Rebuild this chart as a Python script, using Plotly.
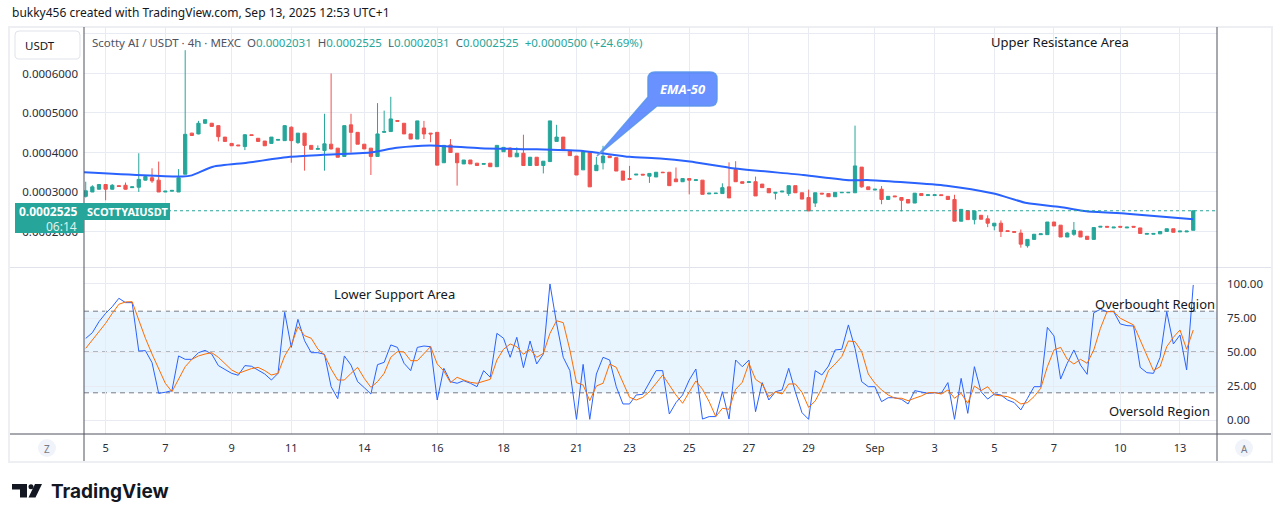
import plotly.graph_objects as go

W, H = 1281, 522

# ---------------- data (prices in units of 0.0001 USDT) ----------------
PRICE_UNIT = 1e-4

opens = [2.89, 3.00, 3.07, 3.19, 3.07, 3.16, 3.17, 3.11, 3.12, 3.30,
         3.36, 3.30, 3.00, 3.02, 3.00, 3.45, 4.49, 4.47, 4.74, 4.74,
         4.68, 4.39, 4.23, 4.19, 4.15, 4.45, 4.36, 4.29, 4.23, 4.31,
         4.30, 4.64, 4.25, 4.49, 4.18, 4.08, 4.05, 4.21, 4.11, 3.90,
         4.70, 4.51, 4.21, 4.11, 3.90, 4.51, 4.53, 4.81, 4.74, 4.47,
         4.34, 4.62, 4.49, 4.51, 3.74, 4.19, 3.98, 3.71, 3.81, 3.73,
         3.70, 3.73, 3.64, 4.02, 4.11, 3.89, 3.98, 3.67, 3.88, 3.67,
         3.77, 4.28, 4.39, 4.05, 3.91, 3.56, 4.00, 3.54, 3.74, 3.91,
         3.87, 3.53, 3.34, 3.43, 3.45, 3.40, 3.38, 3.50, 3.50, 3.33,
         3.26, 3.34, 3.29, 3.30, 2.95, 2.96, 2.96, 3.13, 3.57, 3.26,
         3.24, 3.26, 3.20, 3.09, 2.97, 3.00, 2.96, 3.16, 2.98, 2.86,
         2.72, 2.97, 2.96, 2.88, 2.98, 2.98, 2.98, 3.63, 3.13, 3.05,
         3.07, 2.81, 2.90, 2.86, 2.81, 2.72, 2.96, 2.91, 2.91, 2.93,
         2.89, 2.81, 2.26, 2.53, 2.30, 2.41, 2.32, 2.14, 2.21, 2.02,
         2.00, 1.96, 1.64, 1.80, 1.92, 1.92, 2.24, 2.16, 1.86, 1.93,
         2.01, 1.88, 1.80, 2.11, 2.13, 2.09, 2.13, 2.09, 2.13, 2.09,
         1.93, 1.93, 1.94, 2.00, 2.07, 1.99, 1.99, 2.031]
highs = [3.26, 3.17, 3.20, 3.20, 3.20, 3.16, 3.24, 3.13, 3.98, 3.40,
         3.60, 3.77, 3.02, 3.04, 3.58, 6.59, 4.50, 4.80, 4.84, 4.75,
         4.69, 4.39, 4.23, 4.19, 4.46, 4.45, 4.36, 4.29, 4.39, 4.33,
         4.69, 4.66, 4.49, 4.49, 4.18, 4.18, 4.98, 6.00, 4.11, 4.68,
         4.98, 4.51, 4.21, 4.11, 5.25, 5.06, 5.41, 4.81, 4.74, 4.47,
         4.80, 4.80, 4.49, 4.51, 4.18, 4.34, 3.98, 3.81, 3.81, 3.73,
         3.72, 3.73, 4.18, 4.13, 4.13, 4.13, 4.45, 3.88, 3.88, 3.78,
         4.80, 4.70, 4.39, 4.05, 3.91, 4.02, 4.00, 3.89, 4.17, 3.91,
         3.87, 3.53, 3.66, 3.45, 3.45, 3.47, 3.50, 3.51, 3.50, 3.62,
         3.34, 3.34, 3.31, 3.30, 2.97, 2.97, 3.22, 3.75, 3.78, 3.26,
         3.26, 3.39, 3.20, 3.09, 2.99, 3.02, 3.16, 3.16, 2.98, 3.06,
         2.98, 2.97, 2.96, 2.99, 2.99, 2.99, 4.68, 3.63, 3.13, 3.07,
         3.15, 2.89, 2.90, 2.86, 2.81, 2.97, 2.96, 2.93, 2.93, 2.93,
         2.89, 2.93, 2.56, 2.53, 2.52, 2.41, 2.41, 2.21, 2.28, 2.02,
         2.00, 2.05, 1.80, 1.93, 1.94, 2.24, 2.24, 2.16, 1.98, 2.24,
         2.01, 1.88, 2.10, 2.13, 2.13, 2.11, 2.13, 2.11, 2.13, 2.09,
         1.95, 1.95, 2.00, 2.07, 2.07, 2.01, 2.01, 2.525]
lows = [2.86, 3.00, 3.06, 2.79, 3.06, 3.14, 3.06, 3.11, 3.00, 3.29,
        3.23, 3.00, 3.00, 3.02, 3.00, 3.45, 4.42, 4.46, 4.72, 4.66,
        4.28, 4.28, 4.17, 4.17, 4.06, 4.43, 4.28, 4.17, 4.23, 4.31,
        4.30, 3.74, 4.22, 3.54, 4.08, 4.08, 3.54, 4.08, 3.88, 3.90,
        4.00, 4.21, 4.09, 3.43, 3.90, 4.51, 4.53, 4.79, 4.47, 4.34,
        4.34, 4.34, 4.26, 3.68, 3.74, 4.00, 3.16, 3.71, 3.71, 3.67,
        3.70, 3.64, 3.64, 4.02, 3.89, 3.89, 3.67, 3.67, 3.67, 3.47,
        3.77, 4.28, 4.05, 3.92, 3.43, 3.56, 3.13, 3.54, 3.57, 3.87,
        3.53, 3.30, 3.32, 3.43, 3.43, 3.23, 3.38, 3.48, 3.16, 3.26,
        3.26, 2.94, 3.29, 2.94, 2.95, 2.96, 2.96, 2.85, 3.26, 3.22,
        3.24, 2.90, 3.11, 2.98, 2.81, 3.00, 2.90, 2.98, 2.82, 2.52,
        2.62, 2.95, 2.88, 2.88, 2.98, 2.98, 2.98, 3.11, 3.06, 3.05,
        2.69, 2.81, 2.88, 2.51, 2.72, 2.72, 2.91, 2.91, 2.91, 2.91,
        2.81, 2.26, 2.26, 2.30, 2.18, 2.31, 2.11, 2.03, 1.86, 2.00,
        1.98, 1.59, 1.59, 1.80, 1.92, 1.92, 2.14, 1.86, 1.86, 1.89,
        1.86, 1.80, 1.80, 2.11, 2.11, 2.09, 2.11, 2.09, 2.11, 1.95,
        1.93, 1.93, 1.94, 2.00, 1.98, 1.99, 1.99, 2.031]
closes = [3.03, 3.13, 3.19, 3.07, 3.17, 3.14, 3.07, 3.13, 3.32, 3.39,
          3.28, 3.00, 3.02, 3.04, 3.36, 4.46, 4.43, 4.74, 4.83, 4.66,
          4.40, 4.28, 4.17, 4.17, 4.45, 4.43, 4.28, 4.17, 4.39, 4.33,
          4.68, 4.30, 4.49, 4.18, 4.08, 4.10, 4.22, 4.09, 3.88, 4.68,
          4.51, 4.21, 4.09, 3.90, 4.47, 4.53, 4.85, 4.79, 4.47, 4.34,
          4.80, 4.47, 4.47, 3.68, 4.18, 4.00, 3.74, 3.81, 3.71, 3.67,
          3.72, 3.64, 4.18, 4.13, 3.89, 3.98, 3.67, 3.88, 3.67, 3.78,
          4.80, 4.39, 4.05, 3.92, 3.43, 4.02, 3.13, 3.68, 3.91, 3.87,
          3.53, 3.30, 3.32, 3.45, 3.43, 3.47, 3.50, 3.49, 3.16, 3.26,
          3.34, 3.30, 3.31, 2.94, 2.97, 2.97, 3.11, 2.85, 3.26, 3.22,
          3.26, 2.90, 3.11, 2.98, 2.99, 3.02, 3.16, 2.98, 2.82, 2.52,
          2.98, 2.95, 2.88, 2.99, 2.99, 2.99, 3.66, 3.13, 3.06, 3.07,
          2.81, 2.89, 2.88, 2.79, 2.72, 2.97, 2.91, 2.93, 2.93, 2.91,
          2.81, 2.26, 2.56, 2.30, 2.52, 2.31, 2.21, 2.21, 2.00, 2.00,
          1.98, 1.68, 1.80, 1.93, 1.94, 2.24, 2.14, 1.86, 1.96, 2.03,
          1.86, 1.80, 2.10, 2.13, 2.11, 2.11, 2.11, 2.11, 2.11, 1.95,
          1.95, 1.95, 2.00, 2.07, 1.98, 2.01, 2.01, 2.525]
candle_idx = list(range(len(opens)))

# EMA-50 line (candle index, price in 0.0001 USDT)
ema_idx = [-0.3, 14.6, 16.0, 19.2, 24.3, 30.8, 35.8, 42.9, 46.9, 51.9, 59.5, 68.0, 75.0,
           82.0, 86.6, 91.1, 97.2, 108.2, 115.2, 118.3, 129.8, 136.9, 141.9, 146.9,
           150.9, 157.0, 167.0]
ema_val = [3.50, 3.39, 3.42, 3.64, 3.74, 3.89, 3.94, 4.00, 4.12, 4.18, 4.11, 4.08, 4.04,
           3.89, 3.85, 3.77, 3.61, 3.43, 3.30, 3.30, 3.16, 2.96, 2.72, 2.62,
           2.51, 2.45, 2.31]

# Stochastic RSI (%K blue, %D orange)
stoch_k = [60.0, 64.2, 72.3, 78.4, 83.3, 89.5, 86.3, 86.3, 50.7, 51.0,
           42.2, 19.6, 20.4, 21.6, 47.1, 44.6, 44.6, 49.5, 51.2, 48.5,
           40.0, 37.3, 34.3, 32.9, 40.0, 39.5, 36.8, 33.8, 29.4, 34.3,
           79.2, 53.4, 74.0, 58.3, 49.5, 49.5, 48.3, 24.5, 15.7, 47.1,
           40.4, 28.2, 23.8, 19.1, 40.7, 42.4, 55.2, 53.4, 41.7, 36.3,
           53.4, 54.4, 53.9, 14.7, 38.0, 28.2, 27.0, 28.9, 27.0, 24.5,
           36.3, 31.4, 63.7, 60.1, 46.1, 60.8, 38.5, 58.1, 41.2, 48.5,
           100.0, 71.1, 46.1, 36.3, 0.5, 40.9, 0.5, 33.8, 46.1, 44.1,
           24.5, 11.8, 11.8, 18.4, 18.9, 27.5, 36.3, 36.3, 4.4, 12.8,
           18.4, 29.4, 37.5, 0.7, 2.5, 2.5, 20.8, 0.7, 44.1, 39.2,
           44.1, 6.1, 27.5, 14.7, 20.8, 22.1, 38.0, 20.8, 5.4, 0.5,
           36.3, 33.1, 39.7, 51.5, 52.0, 69.9, 52.7, 28.2, 24.5, 24.5,
           13.5, 16.4, 16.4, 15.2, 11.8, 21.6, 20.4, 19.6, 20.1, 19.6,
           27.5, 0.5, 30.6, 4.9, 39.2, 20.8, 15.4, 19.1, 18.4, 14.7,
           12.8, 7.4, 15.9, 24.5, 24.5, 68.1, 61.8, 30.1, 41.7, 51.5,
           40.4, 33.6, 78.9, 81.4, 79.7, 79.7, 70.6, 69.4, 69.1, 38.7,
           34.8, 34.3, 46.1, 79.7, 55.9, 62.5, 36.8, 99.3]
stoch_d = [52.7, 58.8, 65.4, 71.1, 78.4, 85.1, 86.8, 87.0, 73.5, 60.1,
           48.5, 37.3, 27.0, 20.8, 30.6, 39.2, 44.6, 47.1, 48.5, 49.5,
           46.1, 41.2, 36.8, 34.3, 36.0, 37.8, 38.7, 36.3, 33.1, 34.3,
           47.1, 55.2, 68.6, 62.0, 60.1, 52.2, 47.8, 37.5, 29.4, 29.4,
           34.3, 38.7, 30.6, 24.0, 28.2, 34.3, 46.1, 50.3, 50.0, 43.6,
           43.6, 48.5, 54.0, 41.2, 36.0, 27.5, 31.4, 29.4, 27.7, 27.0,
           28.2, 29.9, 44.1, 52.0, 55.9, 53.9, 48.3, 52.0, 46.1, 49.0,
           63.7, 73.0, 71.6, 51.5, 27.5, 25.7, 14.2, 25.0, 27.0, 41.2,
           38.7, 27.0, 16.7, 14.7, 16.7, 20.8, 27.0, 33.1, 25.7, 18.4,
           12.3, 20.1, 28.7, 22.6, 13.5, 2.5, 8.6, 7.9, 22.6, 27.7,
           41.7, 29.9, 26.5, 17.2, 20.8, 19.1, 26.5, 26.5, 20.4, 9.3,
           14.0, 23.3, 36.3, 41.2, 46.6, 58.1, 57.6, 50.3, 33.8, 27.0,
           22.1, 18.4, 16.0, 16.0, 14.2, 16.0, 17.7, 20.1, 20.1, 19.1,
           22.1, 16.0, 19.6, 12.3, 25.0, 21.6, 24.5, 18.4, 17.7, 17.2,
           15.2, 11.8, 12.8, 17.2, 23.3, 39.2, 51.5, 53.4, 44.6, 41.2,
           44.6, 41.7, 51.5, 67.4, 79.7, 79.7, 74.8, 72.3, 69.9, 58.8,
           47.8, 36.3, 39.2, 53.9, 60.8, 66.2, 52.0, 66.2]

date_tick_idx = [3, 12, 22, 31, 42, 53, 63, 74, 82, 91, 100, 109, 119, 128, 137, 146, 156, 165]
date_tick_txt = ["5", "7", "9", "11", "14", "16", "18", "21", "23", "25", "27", "29",
                 "Sep", "3", "5", "7", "10", "13"]

# the 0.0007 gridline's label sits under the USDT button in the reference
price_ticks = [2, 3, 4, 5, 6, 7]
price_tick_txt = ["0.0002000", "0.0003000", "0.0004000", "0.0005000", "0.0006000", ""]
osc_ticks = [0, 25, 50, 75, 100]
osc_tick_txt = ["0.00", "25.00", "50.00", "75.00", "100.00"]
osc_levels = [20, 50, 80]
last_price = 2.525

# ---------------- styling ----------------
GREEN = "#26a69a"
RED = "#ef5350"
BLUE = "#2962ff"
ORANGE = "#ff6d00"
GRID = "#e8ecf2"
TXT = "#131722"
FONT = "Noto Sans"


def X(x):
    return x / W


def Y(y):
    return 1 - y / H


fig = go.Figure()

fig.add_trace(go.Candlestick(
    x=candle_idx,
    open=[v * PRICE_UNIT for v in opens],
    high=[v * PRICE_UNIT for v in highs],
    low=[v * PRICE_UNIT for v in lows],
    close=[v * PRICE_UNIT for v in closes],
    increasing=dict(line=dict(color=GREEN, width=1), fillcolor=GREEN),
    decreasing=dict(line=dict(color=RED, width=1), fillcolor=RED),
    whiskerwidth=0, hoverinfo="skip", showlegend=False,
    xaxis="x", yaxis="y",
))

fig.add_trace(go.Scatter(
    x=ema_idx, y=[v * PRICE_UNIT for v in ema_val], mode="lines",
    line=dict(color=BLUE, width=2, shape="spline", smoothing=0.6),
    hoverinfo="skip", showlegend=False, xaxis="x", yaxis="y",
))

fig.add_trace(go.Scatter(
    x=candle_idx, y=stoch_k, mode="lines", line=dict(color=BLUE, width=1),
    hoverinfo="skip", showlegend=False, xaxis="x2", yaxis="y2",
))
fig.add_trace(go.Scatter(
    x=candle_idx, y=stoch_d, mode="lines", line=dict(color=ORANGE, width=1),
    hoverinfo="skip", showlegend=False, xaxis="x2", yaxis="y2",
))

xdom = [X(84), X(1217)]
xrange_ = [-0.26, 170.58]

shapes = []


def prect(x0, y0, x1, y1, **kw):
    shapes.append(dict(type="rect", xref="paper", yref="paper",
                       x0=X(x0), x1=X(x1), y0=Y(y1), y1=Y(y0), **kw))


def pline(x0, y0, x1, y1, color, width=1, dash="solid"):
    shapes.append(dict(type="line", xref="paper", yref="paper",
                       x0=X(x0), x1=X(x1), y0=Y(y0), y1=Y(y1),
                       line=dict(color=color, width=width, dash=dash), layer="above"))


def path_of(points_cmds):
    out = []
    for cmd, pts in points_cmds:
        coords = " ".join(f"{X(px):.5f},{Y(py):.5f}" for px, py in pts)
        out.append(f"{cmd} {coords}")
    return " ".join(out) + " Z"


def rounded_rect(x0, y0, x1, y1, r):
    return path_of([
        ("M", [(x0 + r, y0)]), ("L", [(x1 - r, y0)]), ("Q", [(x1, y0), (x1, y0 + r)]),
        ("L", [(x1, y1 - r)]), ("Q", [(x1, y1), (x1 - r, y1)]),
        ("L", [(x0 + r, y1)]), ("Q", [(x0, y1), (x0, y1 - r)]),
        ("L", [(x0, y0 + r)]), ("Q", [(x0, y0), (x0 + r, y0)]),
    ])


# oscillator band and levels
shapes.append(dict(type="rect", xref="x2 domain", yref="y2", x0=0, x1=1,
                   y0=osc_levels[0], y1=osc_levels[2],
                   fillcolor="rgba(33,150,243,0.10)", line=dict(width=0), layer="below"))
for lv in osc_levels:
    shapes.append(dict(type="line", xref="x2 domain", yref="y2", x0=0, x1=1, y0=lv, y1=lv,
                       line=dict(color="#787b86", width=1, dash="5px,4px"), layer="below"))

# last-price dotted line
shapes.append(dict(type="line", xref="x domain", yref="y", x0=0, x1=1,
                   y0=last_price * PRICE_UNIT, y1=last_price * PRICE_UNIT,
                   line=dict(color=GREEN, width=1, dash="dot"), layer="above"))

# frame and separators
prect(9, 27, 1272, 462, line=dict(color="#eeeff2", width=2), fillcolor="rgba(0,0,0,0)", layer="below")
pline(10, 267.5, 1271, 267.5, "#e0e3eb")
pline(10, 434, 1271, 434, "#50535e")
pline(84, 27, 84, 461, "#50535e")
pline(1217, 27, 1217, 461, "#50535e")

# USDT button
shapes.append(dict(type="path", xref="paper", yref="paper",
                   path=rounded_rect(15, 31, 80, 59, 4),
                   line=dict(color="#e0e3eb", width=1), fillcolor="white", layer="above"))

# price label boxes
prect(15, 203, 84, 233, fillcolor=GREEN, line=dict(width=0), layer="above")
prect(84, 203, 170, 220, fillcolor=GREEN, line=dict(width=0), layer="above")

# EMA-50 callout
callout = path_of([
    ("M", [(655, 72)]), ("L", [(710, 72)]), ("Q", [(717, 72), (717, 79)]),
    ("L", [(717, 99)]), ("Q", [(717, 106), (710, 106)]),
    ("L", [(657, 106)]), ("L", [(597, 156)]), ("L", [(648, 97)]),
    ("L", [(648, 79)]), ("Q", [(648, 72), (655, 72)]),
])
shapes.append(dict(type="path", xref="paper", yref="paper", path=callout,
                   fillcolor="rgba(41,98,255,0.70)",
                   line=dict(color="rgba(90,150,235,0.9)", width=1.5), layer="above"))

# Z / A buttons
for cx in (47, 1244):
    shapes.append(dict(type="circle", xref="paper", yref="paper",
                       x0=X(cx - 9), x1=X(cx + 9), y0=Y(457), y1=Y(439),
                       fillcolor="#f0f3fa", line=dict(width=0), layer="above"))

# TradingView logo mark
prect(12, 484, 27, 489.5, fillcolor=TXT, line=dict(width=0), layer="above")
prect(20, 484, 27, 497.5, fillcolor=TXT, line=dict(width=0), layer="above")
shapes.append(dict(type="circle", xref="paper", yref="paper",
                   x0=X(28.5), x1=X(33.5), y0=Y(489.2), y1=Y(484.2),
                   fillcolor=TXT, line=dict(width=0), layer="above"))
shapes.append(dict(type="path", xref="paper", yref="paper",
                   path=path_of([("M", [(35, 484)]), ("L", [(42, 484)]),
                                 ("L", [(35.5, 497.5)]), ("L", [(28.5, 497.5)])]),
                   fillcolor=TXT, line=dict(width=0), layer="above"))

annotations = []


def ann(x, y, text, size=12, color=TXT, xanchor="center", family=FONT, **kw):
    annotations.append(dict(xref="paper", yref="paper", x=X(x), y=Y(y), text=text,
                            showarrow=False, xanchor=xanchor, yanchor="middle",
                            font=dict(family=family, size=size, color=color), **kw))


ann(10, 13, "bukky456 created with TradingView.com, Sep 13, 2025 12:53 UTC+1", size=12, xanchor="left")
ann(23, 45, "USDT", size=11.5, xanchor="left")

g = GREEN
legend_txt = (f"<span style='color:#50535e'>Scotty AI / USDT · 4h · MEXC</span>  "
              f"<span style='color:#50535e'>O</span><span style='color:{g}'>0.0002031</span>  "
              f"<span style='color:#50535e'>H</span><span style='color:{g}'>0.0002525</span>  "
              f"<span style='color:#50535e'>L</span><span style='color:{g}'>0.0002031</span>  "
              f"<span style='color:#50535e'>C</span><span style='color:{g}'>0.0002525</span>  "
              f"<span style='color:{g}'>+0.0000500 (+24.69%)</span>")
ann(90, 42, legend_txt, size=11.5, xanchor="left")

ann(1060, 42, "Upper Resistance Area", size=13)
ann(682.5, 89, "<b><i>EMA-50</i></b>", size=13, color="white")

ann(79, 211, "<b>0.0002525</b>", size=12, color="white", xanchor="right")
ann(79, 226, "06:14", size=12, color="rgba(255,255,255,0.85)", xanchor="right")
ann(127, 211.5, "<b>SCOTTYAIUSDT</b>", size=11, color="white")

ann(394, 294, "Lower Support Area", size=13)
ann(1155, 304, "Overbought Region", size=13)
ann(1159, 411, "Oversold Region", size=13)

ann(47, 448.5, "Z", size=10, color="#787b86")
ann(1244, 448.5, "A", size=10, color="#787b86")

ann(49, 491, "<b>TradingView</b>", size=19, family="Inter", xanchor="left")

fig.update_layout(
    width=W, height=H, margin=dict(l=0, r=0, t=0, b=0),
    paper_bgcolor="white", plot_bgcolor="white",
    font=dict(family=FONT, color=TXT),
    showlegend=False, hovermode=False,
    shapes=shapes, annotations=annotations,
    xaxis=dict(domain=xdom, range=xrange_, anchor="y", rangeslider=dict(visible=False),
               tickmode="array", tickvals=date_tick_idx, showticklabels=False,
               showgrid=True, gridcolor=GRID, gridwidth=1, zeroline=False, showline=False,
               ticks=""),
    yaxis=dict(domain=[Y(267), Y(27)], range=[1.101e-4, 7.177e-4], anchor="x", side="left",
               tickmode="array", tickvals=[v * PRICE_UNIT for v in price_ticks],
               ticktext=price_tick_txt, tickfont=dict(size=11.5, color="#2a2e39"),
               showgrid=True, gridcolor=GRID, zeroline=False, showline=False,
               ticks="", ticklabelstandoff=5),
    xaxis2=dict(domain=xdom, range=xrange_, anchor="y2",
                tickmode="array", tickvals=date_tick_idx, ticktext=date_tick_txt,
                tickfont=dict(size=11, color="#2a2e39"),
                showgrid=True, gridcolor=GRID, zeroline=False,
                showline=False, ticks="", ticklabelstandoff=6),
    yaxis2=dict(domain=[Y(434), Y(268)], range=[-10.29, 111.76], anchor="x2", side="right",
                tickmode="array", tickvals=osc_ticks, ticktext=osc_tick_txt,
                tickfont=dict(size=11.5, color="#2a2e39"),
                showgrid=True, gridcolor=GRID, zeroline=False, showline=False,
                ticks="", ticklabelstandoff=9),
)

fig.write_html("out.html", config={"displayModeBar": False})
